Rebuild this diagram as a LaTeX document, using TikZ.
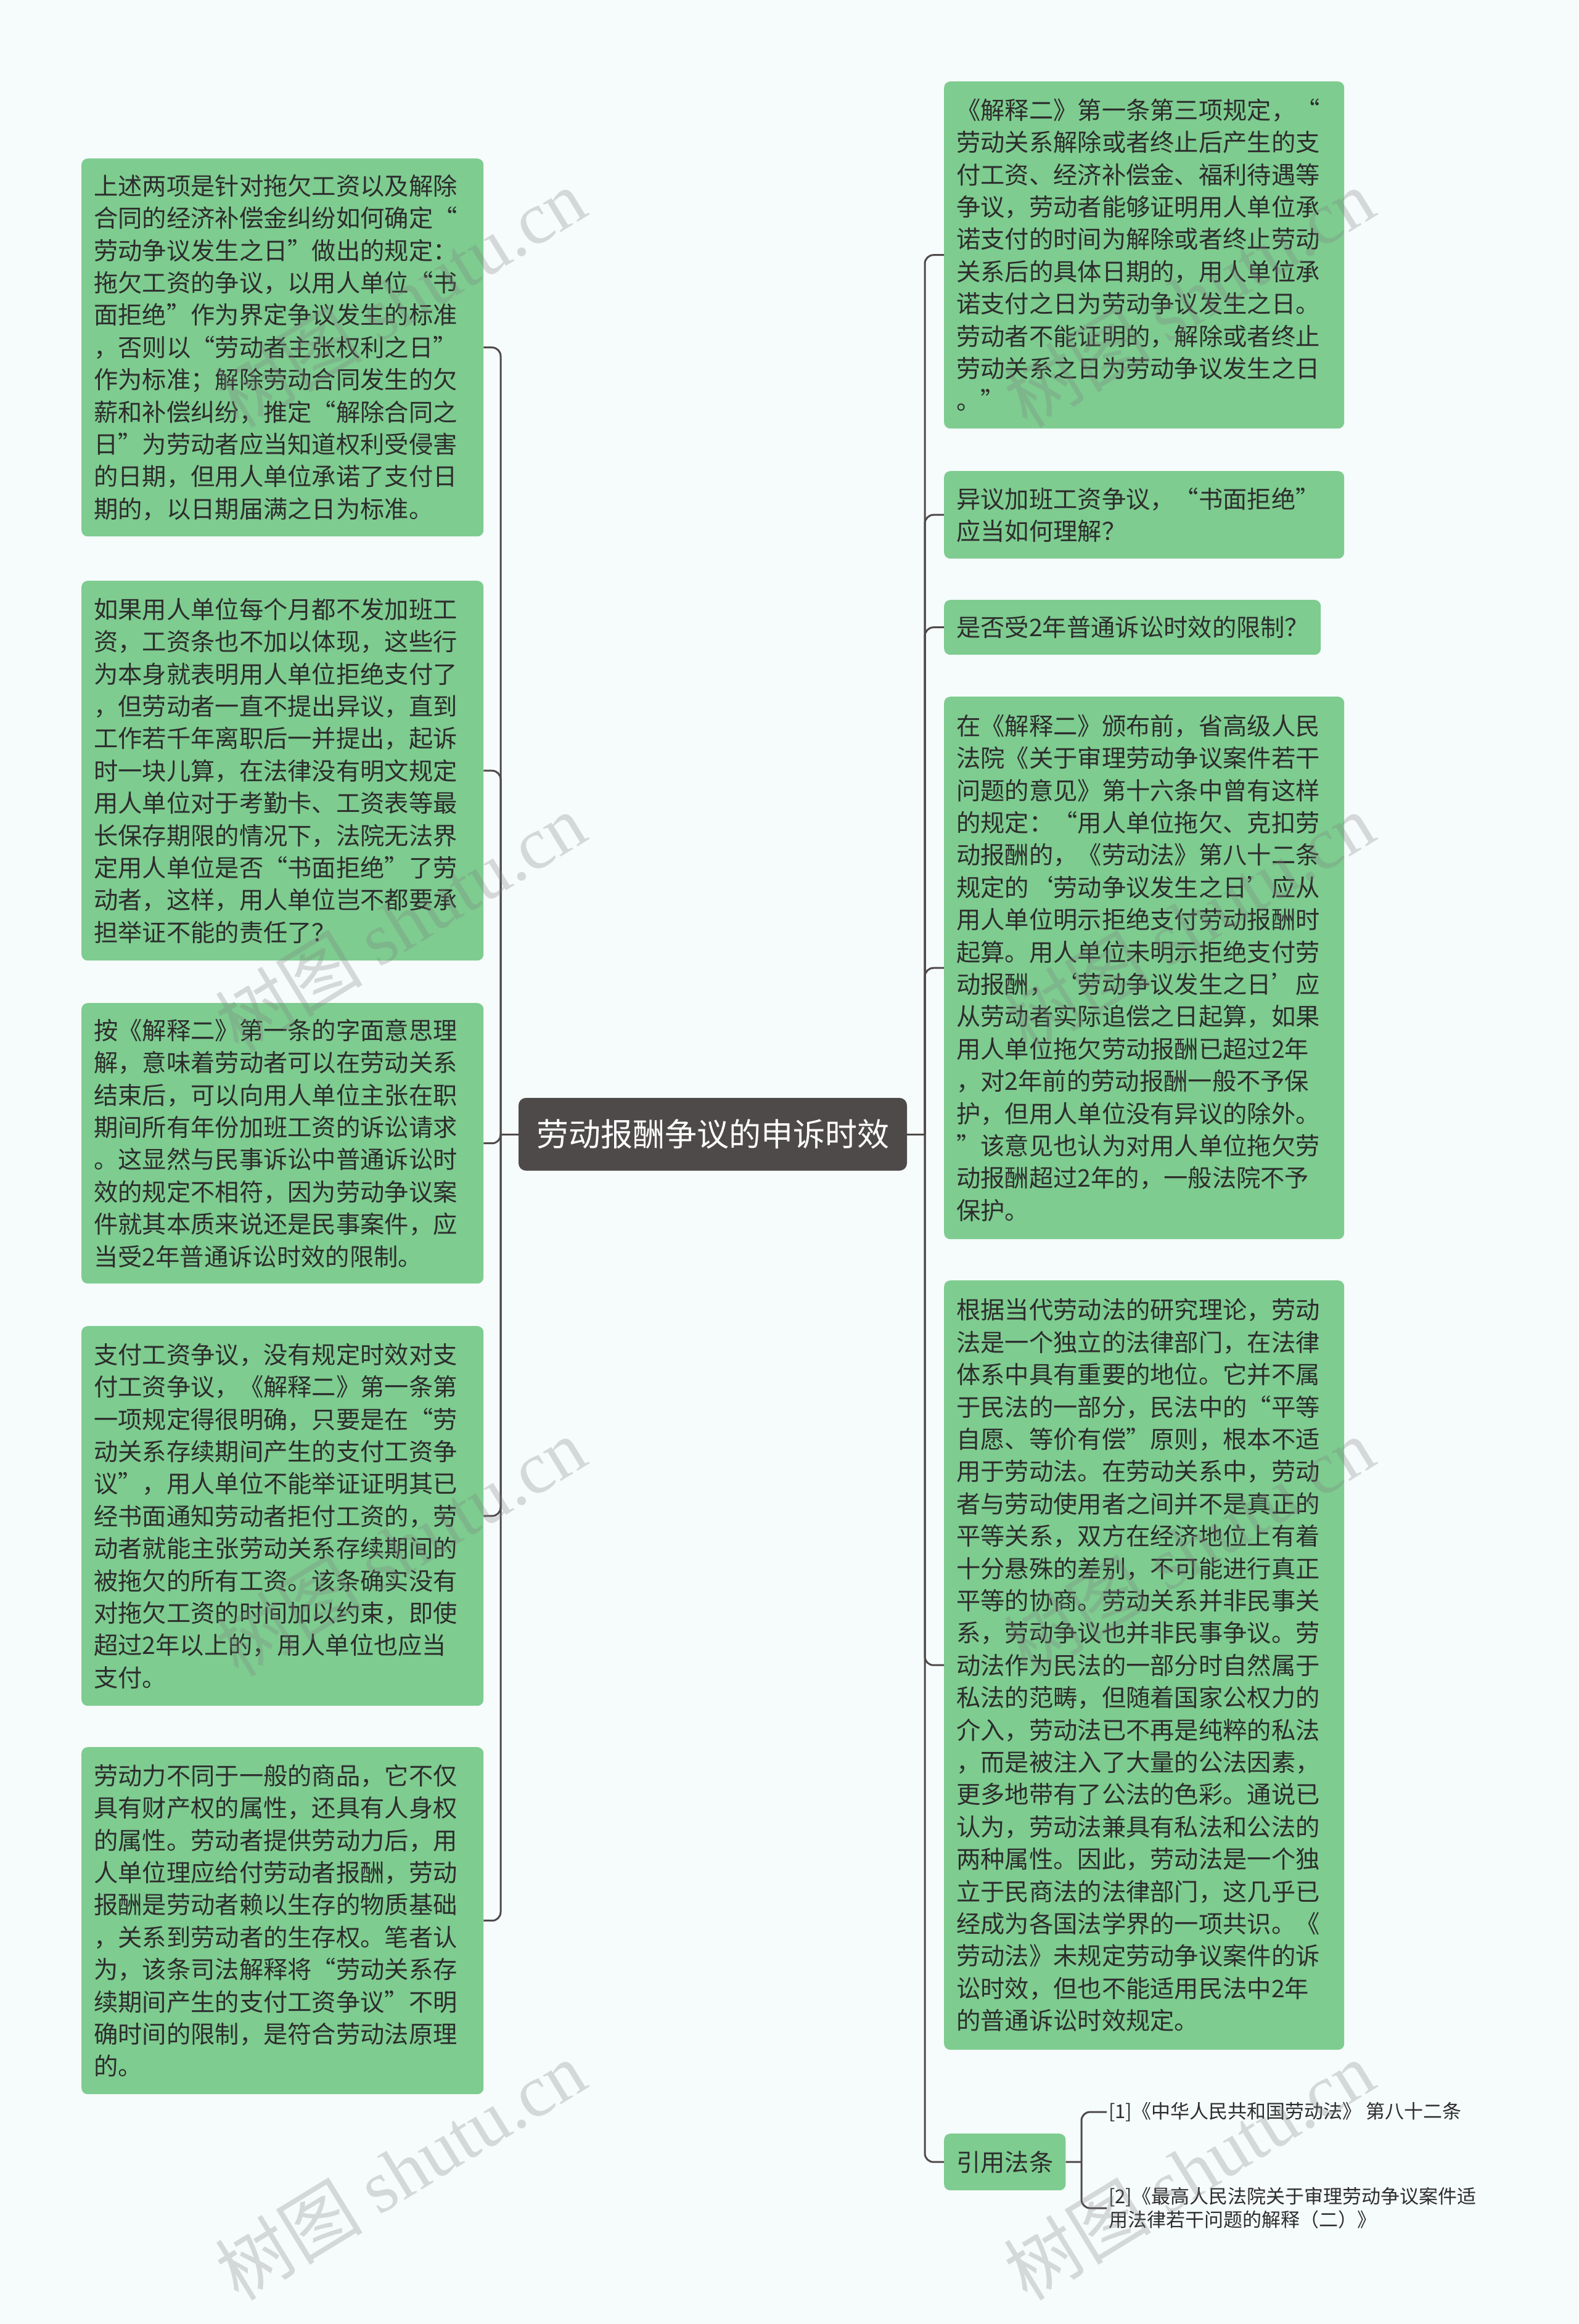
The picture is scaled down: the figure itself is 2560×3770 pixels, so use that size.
\documentclass[tikz,border=0pt]{standalone}
\usepackage{fontspec}
\setmainfont{Noto Sans CJK SC}
\newfontfamily\wmlatin{Liberation Serif}
\definecolor{bg}{HTML}{F6FBFB}
\definecolor{boxgreen}{HTML}{7ECC90}
\definecolor{rootfill}{HTML}{4F4A4A}
\definecolor{linecol}{HTML}{4F4A4A}
\definecolor{txt}{HTML}{2D2D2D}
\tikzset{
  leaf/.style={fill=boxgreen, rounded corners=10pt, text=txt, align=left,
    anchor=north west, inner xsep=20pt, inner ysep=12pt,
    font=\fontsize{39.3}{52.4}\selectfont},
  rootbox/.style={fill=rootfill, rounded corners=12pt, text=white,
    minimum width=630pt, minimum height=118pt, inner sep=10pt,
    font=\fontsize{52}{60}\selectfont},
  conn/.style={draw=linecol, line width=3pt},
  cite/.style={text=txt, align=left, anchor=west, inner sep=3pt,
    font=\fontsize{31}{38.5}\selectfont},
  wm/.style={text=gray, opacity=0.28, rotate=31.5,
    font=\fontsize{120}{130}\selectfont}
}
\begin{document}
\begin{tikzpicture}[x=1pt,y=-1pt]
\fill[bg] (0,0) rectangle (2560,3770);
\useasboundingbox (0,0) rectangle (2560,3770);

% root
\node[rootbox] (root) at (1156,1840) {劳动报酬争议的申诉时效};

% left leaves
\node[leaf, text width=612pt, minimum height=613pt] (L1) at (132,257) {上述两项是针对拖欠工资以及解除\\合同的经济补偿金纠纷如何确定“\\劳动争议发生之日”做出的规定：\\拖欠工资的争议，以用人单位“书\\面拒绝”作为界定争议发生的标准\\，否则以“劳动者主张权利之日”\\作为标准；解除劳动合同发生的欠\\薪和补偿纠纷，推定“解除合同之\\日”为劳动者应当知道权利受侵害\\的日期，但用人单位承诺了支付日\\期的，以日期届满之日为标准。};

\node[leaf, text width=612pt, minimum height=616pt] (L2) at (132,942) {如果用人单位每个月都不发加班工\\资，工资条也不加以体现，这些行\\为本身就表明用人单位拒绝支付了\\，但劳动者一直不提出异议，直到\\工作若千年离职后一并提出，起诉\\时一块儿算，在法律没有明文规定\\用人单位对于考勤卡、工资表等最\\长保存期限的情况下，法院无法界\\定用人单位是否“书面拒绝”了劳\\动者，这样，用人单位岂不都要承\\担举证不能的责任了？};

\node[leaf, text width=612pt, minimum height=455pt] (L3) at (132,1627) {按《解释二》第一条的字面意思理\\解，意味着劳动者可以在劳动关系\\结束后，可以向用人单位主张在职\\期间所有年份加班工资的诉讼请求\\。这显然与民事诉讼中普通诉讼时\\效的规定不相符，因为劳动争议案\\件就其本质来说还是民事案件，应\\当受2年普通诉讼时效的限制。};

\node[leaf, text width=612pt, minimum height=616pt] (L4) at (132,2151) {支付工资争议，没有规定时效对支\\付工资争议，《解释二》第一条第\\一项规定得很明确，只要是在“劳\\动关系存续期间产生的支付工资争\\议”，用人单位不能举证证明其已\\经书面通知劳动者拒付工资的，劳\\动者就能主张劳动关系存续期间的\\被拖欠的所有工资。该条确实没有\\对拖欠工资的时间加以约束，即使\\超过2年以上的，用人单位也应当\\支付。};

\node[leaf, text width=612pt, minimum height=563pt] (L5) at (132,2834) {劳动力不同于一般的商品，它不仅\\具有财产权的属性，还具有人身权\\的属性。劳动者提供劳动力后，用\\人单位理应给付劳动者报酬，劳动\\报酬是劳动者赖以生存的物质基础\\，关系到劳动者的生存权。笔者认\\为，该条司法解释将“劳动关系存\\续期间产生的支付工资争议”不明\\确时间的限制，是符合劳动法原理\\的。};

% right leaves
\node[leaf, text width=609pt, minimum height=563pt] (R1) at (1531,132) {《解释二》第一条第三项规定，“\\劳动关系解除或者终止后产生的支\\付工资、经济补偿金、福利待遇等\\争议，劳动者能够证明用人单位承\\诺支付的时间为解除或者终止劳动\\关系后的具体日期的，用人单位承\\诺支付之日为劳动争议发生之日。\\劳动者不能证明的，解除或者终止\\劳动关系之日为劳动争议发生之日\\。”};

\node[leaf, text width=609pt, minimum height=142pt] (R2) at (1531,764) {异议加班工资争议，“书面拒绝”\\应当如何理解？};

\node[leaf, text width=571pt, minimum height=89pt] (R3) at (1531,973) {是否受2年普通诉讼时效的限制？};

\node[leaf, text width=609pt, minimum height=880pt] (R4) at (1531,1130) {在《解释二》颁布前，省高级人民\\法院《关于审理劳动争议案件若干\\问题的意见》第十六条中曾有这样\\的规定：“用人单位拖欠、克扣劳\\动报酬的，《劳动法》第八十二条\\规定的‘劳动争议发生之日’应从\\用人单位明示拒绝支付劳动报酬时\\起算。用人单位未明示拒绝支付劳\\动报酬，‘劳动争议发生之日’应\\从劳动者实际追偿之日起算，如果\\用人单位拖欠劳动报酬已超过2年\\，对2年前的劳动报酬一般不予保\\护，但用人单位没有异议的除外。\\”该意见也认为对用人单位拖欠劳\\动报酬超过2年的，一般法院不予\\保护。};

\node[leaf, text width=609pt, minimum height=1248pt] (R5) at (1531,2077) {根据当代劳动法的研究理论，劳动\\法是一个独立的法律部门，在法律\\体系中具有重要的地位。它并不属\\于民法的一部分，民法中的“平等\\自愿、等价有偿”原则，根本不适\\用于劳动法。在劳动关系中，劳动\\者与劳动使用者之间并不是真正的\\平等关系，双方在经济地位上有着\\十分悬殊的差别，不可能进行真正\\平等的协商。劳动关系并非民事关\\系，劳动争议也并非民事争议。劳\\动法作为民法的一部分时自然属于\\私法的范畴，但随着国家公权力的\\介入，劳动法已不再是纯粹的私法\\，而是被注入了大量的公法因素，\\更多地带有了公法的色彩。通说已\\认为，劳动法兼具有私法和公法的\\两种属性。因此，劳动法是一个独\\立于民商法的法律部门，这几乎已\\经成为各国法学界的一项共识。《\\劳动法》未规定劳动争议案件的诉\\讼时效，但也不能适用民法中2年\\的普通诉讼时效规定。};

\node[leaf, minimum height=92pt] (R6) at (1531,3461) {引用法条};

% citations
\node[cite] (c1) at (1795,3426) {[1]《中华人民共和国劳动法》 第八十二条};
\node[cite] (c2) at (1795,3582) {[2]《最高人民法院关于审理劳动争议案件适\\用法律若干问题的解释（二）》};

% connectors
\coordinate (lj) at (812,1840);
\coordinate (rj) at (1500,1840);
\coordinate (cj) at (1754,3507);
\draw[conn] (root.west) -- (lj);
\draw[conn] (root.east) -- (rj);
\foreach \n in {L1,L2,L3,L4,L5} \draw[conn, rounded corners=14pt] (lj) |- (\n.east);
\foreach \n in {R1,R2,R3,R4,R5,R6} \draw[conn, rounded corners=14pt] (rj) |- (\n.west);
\draw[conn] (R6.east) -- (cj);
\draw[conn, rounded corners=14pt] (cj) |- (c1.west);
\draw[conn, rounded corners=14pt] (cj) |- (c2.west);

% watermarks
\foreach \wx in {649,1928}
  \foreach \wy in {483,1496,2509,3520}
    \node[wm] (wm-\wx-\wy) at (\wx,\wy) {树图 {\wmlatin shutu.cn}};
\end{tikzpicture}
\end{document}
